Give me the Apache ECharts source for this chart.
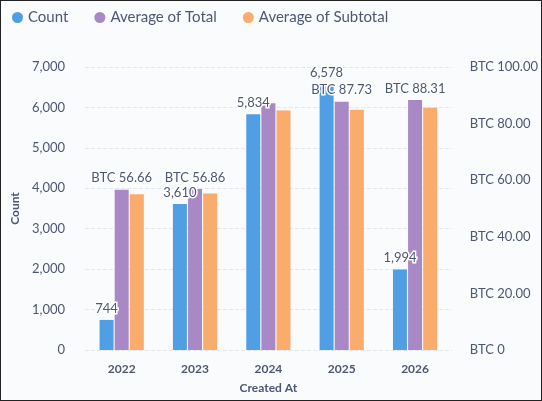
<!DOCTYPE html>
<html><head><meta charset="utf-8">
<script src="https://cdn.jsdelivr.net/npm/echarts@6/dist/echarts.min.js"></script>
<style>html,body{margin:0;padding:0;background:#fff}#c{width:540px;height:399px;border:1px solid #222;background:#f9fbfd}</style>
</head><body><div id="c"></div>
<script>
var years = ['2022', '2023', '2024', '2025', '2026'];
var counts = [744, 3610, 5834, 6578, 1994];
var avgTotal = [56.66, 56.86, 87.2, 87.73, 88.31];
var avgSubtotal = [55.0, 55.3, 84.6, 84.9, 85.6];
var totalLabelShown = [true, true, false, true, true];

var txt = '#4c5773';
var chart = echarts.init(document.getElementById('c'));
chart.setOption({
    textStyle: {fontFamily: 'Lato'},
    legend: {
        left: 6, top: 4, icon: 'circle', itemWidth: 11, itemHeight: 11, itemGap: 26,
        textStyle: {color: txt, fontSize: 15}
    },
    grid: {left: 84, right: 84, top: 66, bottom: 50},
    xAxis: {
        type: 'category', data: years,
        name: 'Created At', nameLocation: 'middle', nameGap: 32,
        nameTextStyle: {color: txt, fontSize: 12, fontWeight: 'bold'},
        axisLine: {show: false}, axisTick: {show: false},
        axisLabel: {color: txt, fontSize: 12, fontWeight: 'bold', margin: 13}
    },
    yAxis: [{
        type: 'value', min: 0, max: 7000, interval: 1000,
        name: 'Count', nameLocation: 'middle', nameGap: 62,
        nameTextStyle: {color: txt, fontSize: 12, fontWeight: 'bold'},
        axisLabel: {color: txt, fontSize: 13, margin: 20,
            formatter: function (v) { return v.toLocaleString('en-US'); }},
        splitLine: {lineStyle: {color: '#e3e6ea', type: 'dashed'}}
    }, {
        type: 'value', min: 0, max: 100, interval: 20,
        axisLabel: {color: txt, fontSize: 13, margin: 18,
            formatter: function (v) { return v === 0 ? 'BTC 0' : 'BTC ' + v.toFixed(2); }},
        splitLine: {show: false}
    }],
    series: [{
        name: 'Count', type: 'bar', data: counts, barWidth: 14, barGap: '8%',
        itemStyle: {color: '#509ee3'},
        label: {show: true, position: 'top', color: txt, fontSize: 13,
            textBorderColor: '#fff', textBorderWidth: 3,
            formatter: function (p) { return p.value.toLocaleString('en-US'); }}
    }, {
        name: 'Average of Total', type: 'bar', yAxisIndex: 1, barWidth: 14,
        itemStyle: {color: '#a989c5'},
        data: avgTotal.map(function (v, i) {
            return {value: v, label: {show: totalLabelShown[i]}};
        }),
        label: {show: true, position: 'top', color: txt, fontSize: 13,
            textBorderColor: '#fff', textBorderWidth: 3,
            formatter: function (p) { return 'BTC ' + p.value.toFixed(2); }}
    }, {
        name: 'Average of Subtotal', type: 'bar', yAxisIndex: 1, barWidth: 14,
        itemStyle: {color: '#f9ac6b'},
        data: avgSubtotal
    }]
});
</script></body></html>
